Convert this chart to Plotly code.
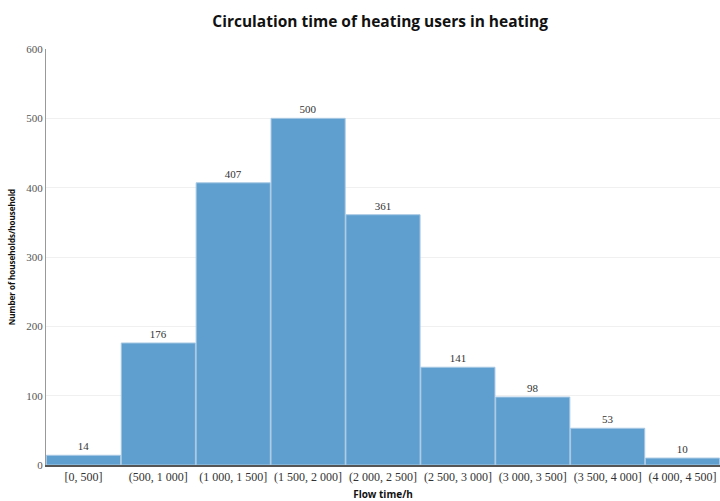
import plotly.graph_objects as go

categories = ["[0, 500]", "(500, 1 000]", "(1 000, 1 500]", "(1 500, 2 000]", "(2 000, 2 500]",
              "(2 500, 3 000]", "(3 000, 3 500]", "(3 500, 4 000]", "(4 000, 4 500]"]
counts = [14, 176, 407, 500, 361, 141, 98, 53, 10]
y_ticks = [0, 100, 200, 300, 400, 500, 600]

fig = go.Figure(go.Bar(
    x=categories, y=counts,
    marker=dict(color="#5f9fcf", line=dict(color="#a9c9e4", width=1)),
    text=[str(v) for v in counts], textposition="outside",
    textfont=dict(family="Liberation Serif", size=11, color="#333333"),
    cliponaxis=False,
))

fig.update_layout(
    width=720, height=501,
    margin=dict(l=46, r=0, t=49, b=36),
    paper_bgcolor="white", plot_bgcolor="white",
    bargap=0.01,
    showlegend=False,
    title=dict(text="<b>Circulation time of heating users in heating</b>",
               font=dict(family="Open Sans", size=15.5, color="#111111"),
               x=0.528, xanchor="center", y=0.956, yanchor="middle"),
    xaxis=dict(
        range=[-0.5, 8.5], showline=True, linecolor="#555555", linewidth=2,
        tickfont=dict(family="Liberation Serif", size=12, color="#333333"),
        ticks="", showgrid=False,
        title=dict(text="<b>Flow time/h</b>", font=dict(family="Open Sans", size=10, color="#111111"), standoff=9),
    ),
    yaxis=dict(
        range=[0, 600], tickvals=y_ticks, showline=True, linecolor="#999999", linewidth=1,
        showgrid=True, gridcolor="#f0f0f0", zeroline=False,
        tickfont=dict(family="Liberation Serif", size=11, color="#555555"),
        ticks="", ticklen=0,
        title=dict(text="<b>Number of households/household</b>", font=dict(family="Open Sans", size=8, color="#111111"), standoff=9),
    ),
)

fig.write_html("out.html")
